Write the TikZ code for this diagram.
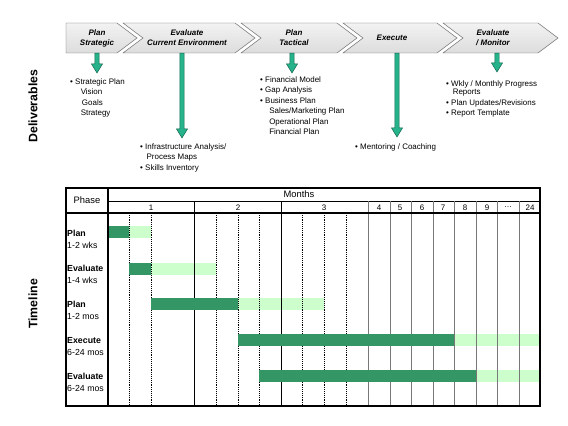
\documentclass[tikz,border=0pt]{standalone}
\usepackage{fontspec}
\setmainfont{Liberation Sans}
\usetikzlibrary{calc}
\definecolor{chevline}{RGB}{95,95,95}
\definecolor{arrowfill}{RGB}{38,178,138}
\definecolor{arrowline}{RGB}{20,100,78}
\definecolor{bardark}{RGB}{51,150,100}
\definecolor{barlight}{RGB}{204,255,204}
\definecolor{gridgray}{RGB}{120,120,120}

\begin{document}
\begin{tikzpicture}[x=0.03cm,y=-0.03cm,font=\fontsize{6.8}{8.9}\selectfont,
  chev/.style={draw=chevline,top color=gray!10,bottom color=gray!27},
  chevtext/.style={font=\fontsize{6.8}{8.5}\selectfont\bfseries\itshape,align=center,
    minimum height=0.9cm,inner sep=0pt},
  deliv/.style={align=left,anchor=north west,inner sep=0pt},
  delarrow/.style={fill=arrowfill,draw=arrowline,line width=0.4pt},
  sidelabel/.style={rotate=90,font=\fontsize{10.5}{12}\selectfont\bfseries},
  tabframe/.style={line width=0.9pt},
  monthline/.style={line width=0.6pt},
  laterline/.style={draw=gridgray,line width=0.7pt},
  weekline/.style={dash pattern=on 0.8pt off 0.8pt,line width=0.45pt},
  phaselabel/.style={align=left,anchor=north west,inner sep=0pt,
    font=\fontsize{7.5}{10}\selectfont}]
  \useasboundingbox (0,0) rectangle (568,426);

  \draw[chev] (66,23) -- (117,23) -- (137,38) -- (117,53) -- (66,53) -- cycle;
  \foreach \xl/\xr in {123/235,241/337,343/437,443/538}
    \draw[chev] (\xl,23) -- (\xr,23) -- (\xr+20,38) -- (\xr,53) -- (\xl,53) -- (\xl+20,38) -- cycle;
  \node[chevtext] (ph1) at (97,38) {Plan\\Strategic};
  \node[chevtext] (ph2) at (187,38) {Evaluate\\Current Environment};
  \node[chevtext] (ph3) at (294,38) {Plan\\Tactical};
  \node[chevtext] (ph4) at (392,38) {Execute};
  \node[chevtext] (ph5) at (493,38) {Evaluate\\/ Monitor};

  \node[deliv] (del1) at (70,78.3)
    {• Strategic Plan\\\hspace*{9pt}Vision\\\hspace*{10pt}Goals\\\hspace*{9pt}Strategy};
  \node[deliv] (del2) at (140,143.3)
    {• Infrastructure Analysis/\\\hspace*{5.5pt}Process Maps\\• Skills Inventory};
  \node[deliv] (del3) at (260,76.3)
    {• Financial Model\\• Gap Analysis\\• Business Plan\\\hspace*{7.7pt}Sales/Marketing Plan\\
     \hspace*{7.7pt}Operational Plan\\\hspace*{7.7pt}Financial Plan};
  \node[deliv] (del4) at (355,143.3) {• Mentoring / Coaching};
  \node[deliv] (del5) at (446,80.3)
    {• Wkly / Monthly Progress\\[-1.5pt]\hspace*{5.6pt}Reports\\• Plan Updates/Revisions\\• Report Template};

  \coordinate (tip1) at (97,73);
  \coordinate (tip2) at (182,138);
  \coordinate (tip3) at (292,73);
  \coordinate (tip4) at (397,137);
  \coordinate (tip5) at (497,72);
  \foreach \i in {1,...,5}
    \draw[delarrow] let \p1=(ph\i.south), \p2=(tip\i) in
      (\x2-1.9pt,\y1) -- (\x2-1.9pt,\y2+7.7pt) -- (\x2-4.7pt,\y2+7.7pt) -- (\x2,\y2)
      -- (\x2+4.7pt,\y2+7.7pt) -- (\x2+1.9pt,\y2+7.7pt) -- (\x2+1.9pt,\y1) -- cycle;

  \node[sidelabel] (delivlbl) at (33,106) {Deliverables};
  \node[sidelabel] (timelbl) at (33,304) {Timeline};

  \foreach \ya/\xa/\xb/\xc in {226/108/129/151,263/129/151/216,298/151/238/324,334/238/454/540,370/259/476/540}
    \fill[barlight] (\xb,\ya) rectangle (\xc,\ya+12);
  \draw[monthline] (108,201) -- (540,201);
  \foreach \x in {194,281} \draw[monthline] (\x,201) -- (\x,406);
  \foreach \x in {368,390,411,433,454,476,497,519} \draw[laterline] (\x,201) -- (\x,406);
  \foreach \x in {129,151,216,238,259,302,324,346} \draw[weekline] (\x,213) -- (\x,406);
  \foreach \ya/\xa/\xb/\xc in {226/108/129/151,263/129/151/216,298/151/238/324,334/238/454/540,370/259/476/540}
    \fill[bardark] (\xa,\ya) rectangle (\xb,\ya+12);
  \draw[tabframe] (66,188) rectangle (540,406);
  \draw[tabframe] (108,188) -- (108,406);
  \draw[tabframe] (66,213) -- (540,213);

  \node[font=\fontsize{8}{9}\selectfont] (phasehd) at (87,200.5) {Phase};
  \node[font=\fontsize{8}{9}\selectfont] (monthshd) at (299,194.5) {Months};
  \foreach \x/\m [count=\k] in {151/1,238/2,324/3,379/4,400/5,422/6,443/7,465/8,487/9,508/…,530/24}
    \node (mon\k) at (\x,207.5) {\m};

  \node[phaselabel] (row1) at (67,229.8) {\textbf{Plan}\\1-2 wks};
  \node[phaselabel] (row2) at (67,264.8) {\textbf{Evaluate}\\1-4 wks};
  \node[phaselabel] (row3) at (67,300.8) {\textbf{Plan}\\1-2 mos};
  \node[phaselabel] (row4) at (67,337.2) {\textbf{Execute}\\6-24 mos};
  \node[phaselabel] (row5) at (67,373.2) {\textbf{Evaluate}\\6-24 mos};
\end{tikzpicture}
\end{document}
